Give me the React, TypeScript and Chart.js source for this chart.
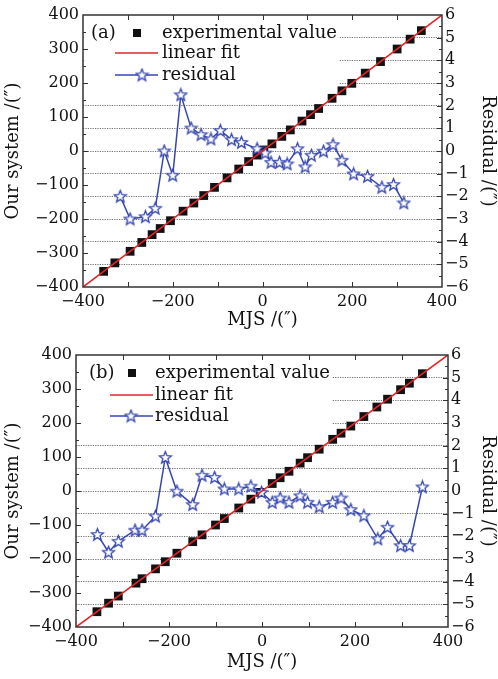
import React, { useEffect, useRef } from 'react';
import { Chart, registerables } from 'chart.js';
Chart.register(...registerables);

// ---------- Panel (a) ----------
const expXA = [-354, -329, -295, -269, -246, -228, -205, -177, -153, -131, -107, -79, -53, -31, -12, 3, 21, 43, 62, 88, 107, 125, 155, 177, 199, 229, 263, 300, 329, 354];
const expYA = [-354, -329, -295, -269, -246, -228, -205, -177, -153, -131, -107, -79, -53, -31, -12, 3, 21, 43, 62, 88, 107, 125, 155, 177, 199, 229, 263, 300, 329, 354];
const resXA = [-317, -295, -261, -239, -219, -200, -182, -159, -137, -115, -94, -69, -47, -12, 6, 19, 38, 55, 78, 95, 109, 136, 157, 177, 203, 234, 266, 292, 315];
const resYA = [-2.0, -3.0, -2.9, -2.53, 0.0, -1.07, 2.48, 1.01, 0.72, 0.53, 0.9, 0.5, 0.38, 0.1, -0.09, -0.5, -0.5, -0.57, 0.1, -0.7, -0.19, -0.01, 0.28, -0.41, -1.01, -1.12, -1.6, -1.48, -2.29];

// ---------- Panel (b) ----------
const expXB = [-355, -330, -309, -271, -258, -229, -208, -183, -149, -129, -100, -81, -50, -24, -4, 22, 39, 58, 82, 98, 123, 152, 170, 191, 219, 247, 270, 298, 317, 345];
const expYB = [-355, -330, -309, -271, -258, -229, -208, -183, -149, -129, -100, -81, -50, -24, -4, 22, 39, 58, 82, 98, 123, 152, 170, 191, 219, 247, 270, 298, 317, 345];
const resXB = [-354, -330, -309, -273, -258, -229, -208, -183, -149, -129, -102, -81, -50, -24, -1, 22, 39, 58, 82, 98, 123, 152, 170, 191, 219, 249, 270, 298, 317, 345];
const resYB = [-1.92, -2.7, -2.22, -1.73, -1.73, -1.11, 1.48, -0.01, -0.6, 0.69, 0.6, 0.09, 0.09, 0.21, -0.06, -0.5, -0.31, -0.5, -0.21, -0.5, -0.7, -0.5, -0.31, -0.82, -1.09, -2.11, -1.6, -2.41, -2.41, 0.18];

// linear fit line end points
const fitX = [-400, 400];
const fitY = [-400, 400];

// axes
const xRange = [-400, 400];
const yRange = [-400, 400];
const rRange = [-6, 6];

const legendLabels = ['experimental value', 'linear fit', 'residual'];
const xTitle = 'MJS /(\u2033)';
const yTitle = 'Our system /(\u2033)';
const rTitle = 'Residual /(\u2033)';

const FONT = '"DejaVu Serif", serif';
const BLUE = '#3546b0';
const RED = '#e0242a';

function minus(v: number) {
  return v < 0 ? '\u2212' + Math.abs(v) : String(v);
}

function makeStar(): HTMLCanvasElement {
  const c = document.createElement('canvas');
  c.width = 15;
  c.height = 15;
  const g = c.getContext('2d')!;
  const cx = 7.5, cy = 7.9, R = 6.3, r = 2.7;
  g.beginPath();
  for (let i = 0; i < 10; i++) {
    const a = -Math.PI / 2 + (i * Math.PI) / 5;
    const rr = i % 2 === 0 ? R : r;
    const x = cx + rr * Math.cos(a);
    const y = cy + rr * Math.sin(a);
    if (i === 0) g.moveTo(x, y);
    else g.lineTo(x, y);
  }
  g.closePath();
  g.fillStyle = '#ffffff';
  g.fill();
  g.strokeStyle = BLUE;
  g.lineWidth = 1.3;
  g.stroke();
  return c;
}

const panelPlugin = {
  id: 'panel',
  beforeDatasetsDraw(chart: any, _a: any, o: any) {
    const { ctx, chartArea: ca } = chart;
    ctx.save();
    ctx.fillStyle = '#ffffff';
    ctx.fillRect(ca.left + 1, ca.top + 1, o.boxW, o.boxH);
    ctx.restore();
  },
  afterDraw(chart: any, _a: any, o: any) {
    const { ctx, chartArea: ca } = chart;
    const xs = chart.scales.x, ys = chart.scales.y, rs = chart.scales.y1;
    ctx.save();
    ctx.strokeStyle = '#333';
    ctx.lineWidth = 1;
    ctx.beginPath();
    for (let v = xRange[0] + 100; v < xRange[1]; v += 100) {
      const p = Math.round(xs.getPixelForValue(v)) + 0.5;
      ctx.moveTo(p, ca.bottom); ctx.lineTo(p, ca.bottom - 5);
      ctx.moveTo(p, ca.top); ctx.lineTo(p, ca.top + 5);
    }
    for (let v = yRange[0] + 50; v < yRange[1]; v += 50) {
      const p = Math.round(ys.getPixelForValue(v)) + 0.5;
      const len = v % 100 === 0 ? 5 : 3;
      ctx.moveTo(ca.left, p); ctx.lineTo(ca.left + len, p);
    }
    for (let v = rRange[0] + 0.5; v < rRange[1]; v += 0.5) {
      const p = Math.round(rs.getPixelForValue(v)) + 0.5;
      const len = v % 1 === 0 ? 5 : 3;
      ctx.moveTo(ca.right, p); ctx.lineTo(ca.right - len, p);
    }
    ctx.stroke();
    ctx.lineWidth = 1.5;
    ctx.strokeRect(ca.left, ca.top, ca.right - ca.left, ca.bottom - ca.top);

    // legend
    ctx.font = '18px ' + FONT;
    ctx.fillStyle = '#111';
    ctx.textBaseline = 'middle';
    ctx.textAlign = 'left';
    const L = ca.left, T = ca.top;
    ctx.fillText(o.tag, L + o.tagX, T + o.rows[0]);
    ctx.fillRect(L + o.sqX - 4, T + o.rows[0] - 4, 8, 8);
    ctx.fillText(legendLabels[0], L + o.textX, T + o.rows[0]);
    ctx.strokeStyle = RED;
    ctx.lineWidth = 1.5;
    ctx.beginPath();
    ctx.moveTo(L + o.lineX0, T + o.rows[1]); ctx.lineTo(L + o.lineX1, T + o.rows[1]);
    ctx.stroke();
    ctx.fillText(legendLabels[1], L + o.textX, T + o.rows[1]);
    ctx.strokeStyle = BLUE;
    ctx.beginPath();
    ctx.moveTo(L + o.lineX0, T + o.rows[2]); ctx.lineTo(L + o.lineX1, T + o.rows[2]);
    ctx.stroke();
    const st = o.star as HTMLCanvasElement;
    ctx.drawImage(st, L + o.starX - st.width / 2, T + o.rows[2] - st.height / 2);
    ctx.fillText(legendLabels[2], L + o.textX, T + o.rows[2]);
    ctx.restore();
  },
};

type PanelProps = {
  height: number;
  padTop: number;
  leftW: number;
  rightW: number;
  expX: number[]; expY: number[]; resX: number[]; resY: number[];
  legend: any;
};

function Panel(p: PanelProps) {
  const ref = useRef<HTMLCanvasElement>(null);
  useEffect(() => {
    const star = makeStar();
    const fitData = fitX.map((x, i) => ({ x, y: fitY[i] }));
    const expData = p.expX.map((x, i) => ({ x, y: p.expY[i] }));
    const resData = p.resX.map((x, i) => ({ x, y: p.resY[i] }));
    const tickFont = { family: FONT, size: 16 };
    const titleFont = { family: FONT, size: 18 };
    const chart = new Chart(ref.current!, {
      type: 'scatter',
      data: {
        datasets: [
          { type: 'line', label: 'linear fit', data: fitData, borderColor: RED, borderWidth: 1.6, pointRadius: 0, yAxisID: 'y', order: 0 } as any,
          { label: 'experimental value', data: expData, pointStyle: 'rect', pointRadius: 6.2, backgroundColor: '#111', borderColor: '#111', borderWidth: 0, yAxisID: 'y', order: 2 } as any,
          { type: 'line', label: 'residual', data: resData, borderColor: BLUE, borderWidth: 1.5, pointStyle: star, pointRadius: 6, yAxisID: 'y1', order: 1, tension: 0 } as any,
        ],
      },
      options: {
        animation: false,
        responsive: false,
        maintainAspectRatio: false,
        events: [],
        layout: { padding: { top: p.padTop, left: 0, right: 0, bottom: 0 } },
        plugins: { legend: { display: false }, tooltip: { enabled: false }, panel: { ...p.legend, star } } as any,
        scales: {
          x: {
            type: 'linear', min: xRange[0], max: xRange[1],
            afterFit: (s: any) => { s.height = p.height - (p.padTop + 272); },
            grid: { display: false, drawTicks: false },
            border: { display: false },
            ticks: { stepSize: 100, padding: 5, color: '#111', font: tickFont, maxRotation: 0, autoSkip: false,
              callback: (v: any) => (Number(v) % 200 === 0 ? minus(Number(v)) : '') },
            title: { display: true, text: xTitle, color: '#111', font: titleFont, padding: { top: 0, bottom: 5.5 } },
          },
          y: {
            type: 'linear', position: 'left', min: yRange[0], max: yRange[1],
            afterFit: (s: any) => { s.width = p.leftW; },
            grid: { display: false, drawTicks: false },
            border: { display: false },
            ticks: { stepSize: 100, padding: 4, color: '#111', font: tickFont, autoSkip: false, callback: (v: any) => minus(Number(v)) },
            title: { display: true, text: yTitle, color: '#111', font: titleFont, padding: { top: 3, bottom: 0 } },
          },
          y1: {
            type: 'linear', position: 'right', min: rRange[0], max: rRange[1],
            afterFit: (s: any) => { s.width = p.rightW; },
            grid: {
              display: true, drawTicks: false, lineWidth: 1,
              color: (c: any) => (c.tick && Math.abs(c.tick.value) === 6 ? 'rgba(0,0,0,0)' : '#6f6f6f'),
            },
            border: { display: false, dash: [1.2, 1.2] },
            ticks: { stepSize: 1, padding: 3, color: '#111', font: tickFont, autoSkip: false, callback: (v: any) => minus(Number(v)) },
            title: { display: true, text: rTitle, color: '#111', font: titleFont, padding: { top: 0, bottom: 5 } },
          },
        },
      } as any,
      plugins: [panelPlugin as any],
    });
    return () => chart.destroy();
  }, []);
  return <canvas ref={ref} width={498} height={p.height} style={{ display: 'block', width: 498, height: p.height }} />;
}

export default function App() {
  return (
    <div style={{ position: 'absolute', left: 0, top: 0, width: 498, height: 679, background: '#fff' }}>
      <Panel height={337} padTop={15} leftW={83} rightW={56} expX={expXA} expY={expYA} resX={resXA} resY={resYA}
        legend={{ tag: '(a)', tagX: 8, sqX: 54, textX: 79, lineX0: 32, lineX1: 75, starX: 59, rows: [18, 38, 60], boxW: 255, boxH: 72 }} />
      <Panel height={342} padTop={18} leftW={76} rightW={50} expX={expXB} expY={expYB} resX={resXB} resY={resYB}
        legend={{ tag: '(b)', tagX: 13, sqX: 56, textX: 79, lineX0: 34, lineX1: 77, starX: 55, rows: [18, 40, 61], boxW: 255, boxH: 72 }} />
    </div>
  );
}
